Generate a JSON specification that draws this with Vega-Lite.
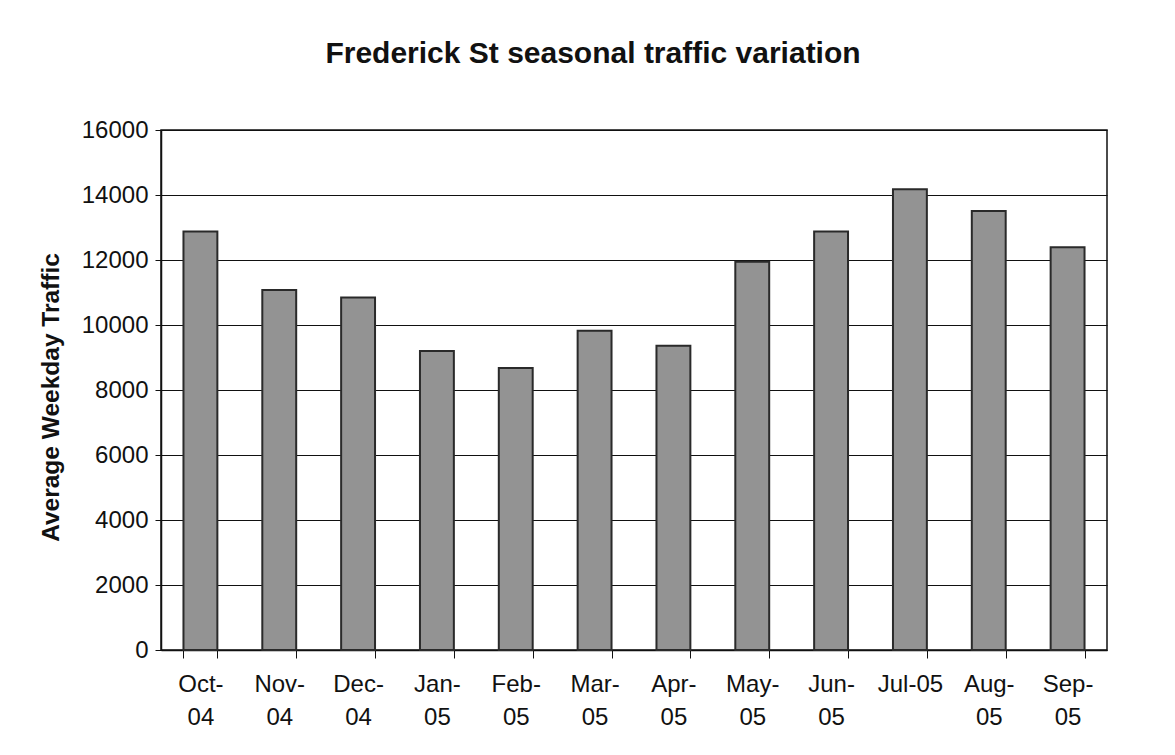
{
  "$schema": "https://vega.github.io/schema/vega-lite/v6.json",
  "autosize": {"type": "none"},
  "width": 946,
  "height": 520,
  "padding": {"left": 161, "top": 130, "right": 68, "bottom": 105},
  "background": "white",
  "title": {
    "text": "Frederick St seasonal traffic variation",
    "font": "Liberation Sans",
    "fontSize": 30,
    "fontWeight": "bold",
    "color": "#111",
    "anchor": "middle",
    "dx": -41,
    "offset": 49
  },
  "data": {
    "values": [
      {"month": "Oct-|04", "traffic": 12880},
      {"month": "Nov-|04", "traffic": 11080},
      {"month": "Dec-|04", "traffic": 10850},
      {"month": "Jan-|05", "traffic": 9200},
      {"month": "Feb-|05", "traffic": 8680},
      {"month": "Mar-|05", "traffic": 9820},
      {"month": "Apr-|05", "traffic": 9360},
      {"month": "May-|05", "traffic": 11950},
      {"month": "Jun-|05", "traffic": 12880},
      {"month": "Jul-05", "traffic": 14180},
      {"month": "Aug-|05", "traffic": 13510},
      {"month": "Sep-|05", "traffic": 12390}
    ]
  },
  "mark": {"type": "bar", "color": "#939393", "stroke": "#2a2a2a", "strokeWidth": 2},
  "encoding": {
    "x": {
      "field": "month",
      "type": "nominal",
      "sort": null,
      "scale": {"paddingInner": 0.57, "paddingOuter": 0.285},
      "axis": {
        "title": null,
        "labelAngle": 0,
        "labelExpr": "isValid(datum.value) ? split(datum.value, '|') : ''",
        "labelFont": "Liberation Sans",
        "labelFontSize": 24,
        "labelColor": "#111",
        "labelLineHeight": 33,
        "labelPadding": 14,
        "tickBand": "extent",
        "tickColor": "#111",
        "tickSize": 8,
        "domainColor": "#111",
        "domainWidth": 1.5
      }
    },
    "y": {
      "field": "traffic",
      "type": "quantitative",
      "scale": {"domain": [0, 16000], "nice": false},
      "axis": {
        "title": "Average Weekday Traffic",
        "titleFont": "Liberation Sans",
        "titleFontSize": 24.5,
        "titleFontWeight": "bold",
        "titleColor": "#111",
        "titlePadding": 18,
        "titleY": 267,
        "values": [0, 2000, 4000, 6000, 8000, 10000, 12000, 14000, 16000],
        "format": "d",
        "labelFont": "Liberation Sans",
        "labelFontSize": 24,
        "labelColor": "#111",
        "labelPadding": 7,
        "tickColor": "#111",
        "tickSize": 6,
        "domainColor": "#111",
        "domainWidth": 1.5,
        "grid": true,
        "gridColor": "#111",
        "gridWidth": 1
      }
    }
  },
  "config": {
    "view": {"stroke": "#111", "strokeWidth": 1.5}
  }
}
